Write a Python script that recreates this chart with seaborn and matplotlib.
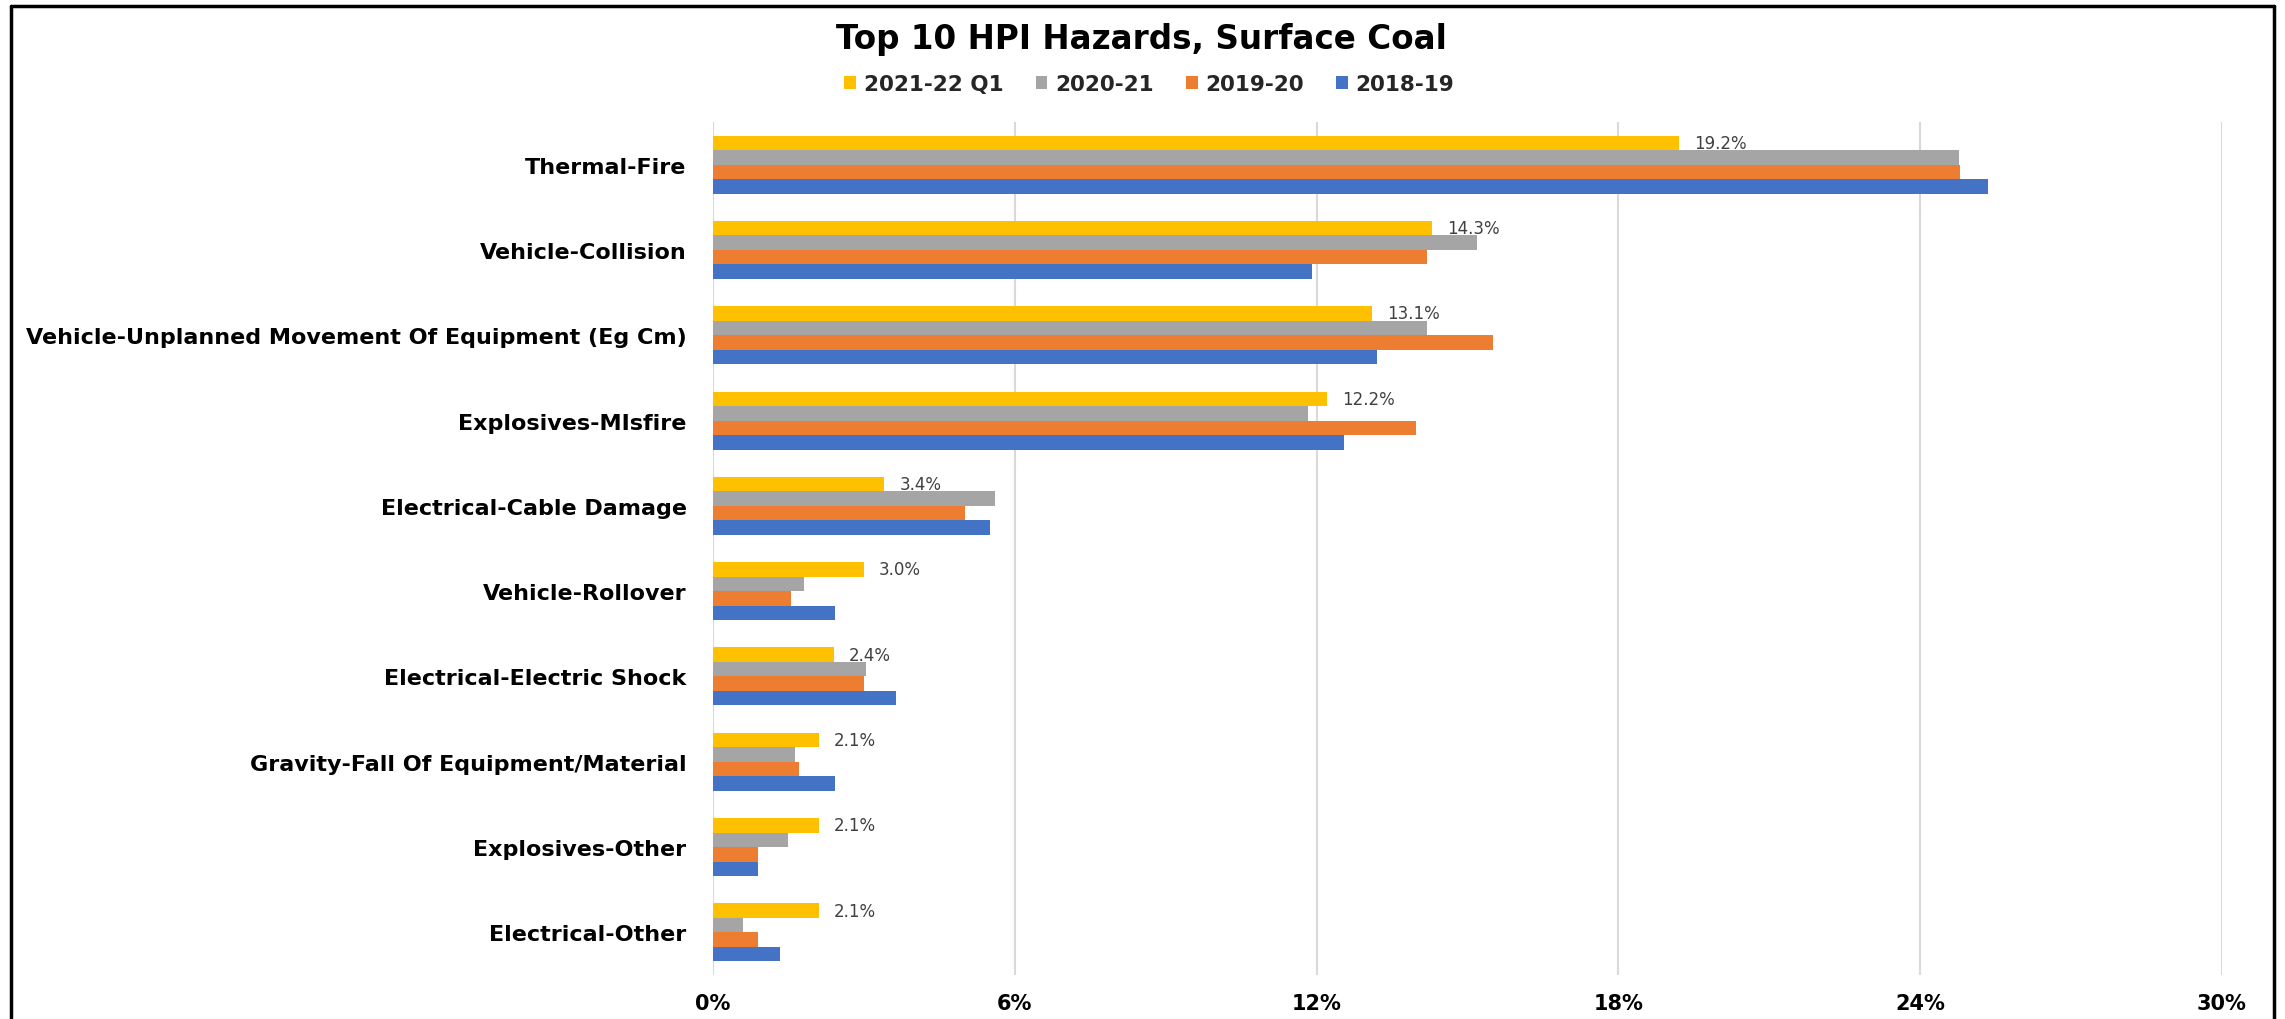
import matplotlib
matplotlib.use("Agg")
import matplotlib.pyplot as plt
from matplotlib.lines import Line2D
from matplotlib.patches import Patch
import seaborn as sns
import pandas as pd

categories = [
    "Thermal-Fire",
    "Vehicle-Collision",
    "Vehicle-Unplanned Movement Of Equipment (Eg Cm)",
    "Explosives-MIsfire",
    "Electrical-Cable Damage",
    "Vehicle-Rollover",
    "Electrical-Electric Shock",
    "Gravity-Fall Of Equipment/Material",
    "Explosives-Other",
    "Electrical-Other",
]
series_names = ["2021-22 Q1", "2020-21", "2019-20", "2018-19"]
v_2021_22_q1 = [19.2, 14.3, 13.1, 12.2, 3.4, 3.0, 2.4, 2.1, 2.1, 2.1]
v_2020_21 = [24.77, 15.18, 14.2, 11.82, 5.6, 1.81, 3.04, 1.63, 1.49, 0.6]
v_2019_20 = [24.79, 14.2, 15.5, 13.97, 5.01, 1.55, 3.0, 1.71, 0.89, 0.89]
v_2018_19 = [25.35, 11.9, 13.2, 12.54, 5.5, 2.42, 3.64, 2.42, 0.89, 1.33]
x_ticks = [0, 6, 12, 18, 24, 30]
x_tick_labels = ["0%", "6%", "12%", "18%", "24%", "30%"]
colors = ["#FFC000", "#A5A5A5", "#ED7D31", "#4472C4"]
title = "Top 10 HPI Hazards, Surface Coal"

rows = []
for name, vals in zip(series_names, [v_2021_22_q1, v_2020_21, v_2019_20, v_2018_19]):
    for c, v in zip(categories, vals):
        rows.append({"Hazard": c, "Period": name, "Value": v})
df = pd.DataFrame(rows)

sns.set_style("white")
plt.rcParams["font.family"] = ["DejaVu Sans"]

fig = plt.figure(figsize=(22.85, 10.2), dpi=100)
ax = fig.add_axes([713 / 2285, 1 - 976 / 1020, (2222 - 713) / 2285, 853 / 1020])

sns.barplot(data=df, y="Hazard", x="Value", hue="Period", order=categories,
            hue_order=series_names, palette=colors, orient="h", width=0.68,
            saturation=1, ax=ax, legend=False, linewidth=0)

ax.set_xlim(0, 30)
ax.set_ylim(9.5, -0.5)
ax.set_xticks(x_ticks)
ax.set_xticklabels(x_tick_labels, fontsize=15, fontweight="bold", color="#000000")
ax.tick_params(axis="y", labelsize=16, length=0, pad=19)
ax.tick_params(axis="x", length=0, pad=13)
for lab in ax.get_yticklabels():
    lab.set_fontweight("bold")
    lab.set_color("#000000")
ax.set_xlabel("")
ax.set_ylabel("")
for s in ax.spines.values():
    s.set_visible(False)
ax.grid(axis="x", color="#D9D9D9", linewidth=1.5)
ax.set_axisbelow(True)

ax.bar_label(ax.containers[0], labels=[f"{v:.1f}%" for v in v_2021_22_q1],
             padding=11, fontsize=12, color="#404040")

fig.text(0.4995, 1 - 39 / 1020, title, ha="center", va="center",
         fontsize=23.5, fontweight="bold", color="#000000")

handles = [Patch(facecolor=c, edgecolor="none") for c in colors]
leg = fig.legend(handles, series_names, loc="center", bbox_to_anchor=(0.503, 1 - 85 / 1020),
                 ncol=4, frameon=False, prop={"size": 15.5, "weight": "bold"},
                 handlelength=0.55, handleheight=0.55, handletextpad=0.35, columnspacing=1.5)

# outer frame
lw = 2.5
fig.add_artist(Line2D([11 / 2285, 11 / 2285], [0, 1 - 7 / 1020], color="#000000", lw=lw, transform=fig.transFigure))
fig.add_artist(Line2D([11 / 2285, 2274 / 2285], [1 - 7 / 1020, 1 - 7 / 1020], color="#000000", lw=lw, transform=fig.transFigure))
fig.add_artist(Line2D([2274 / 2285, 2274 / 2285], [0, 1 - 7 / 1020], color="#000000", lw=lw, transform=fig.transFigure))

fig.savefig("out.png", dpi=100, facecolor="white")
